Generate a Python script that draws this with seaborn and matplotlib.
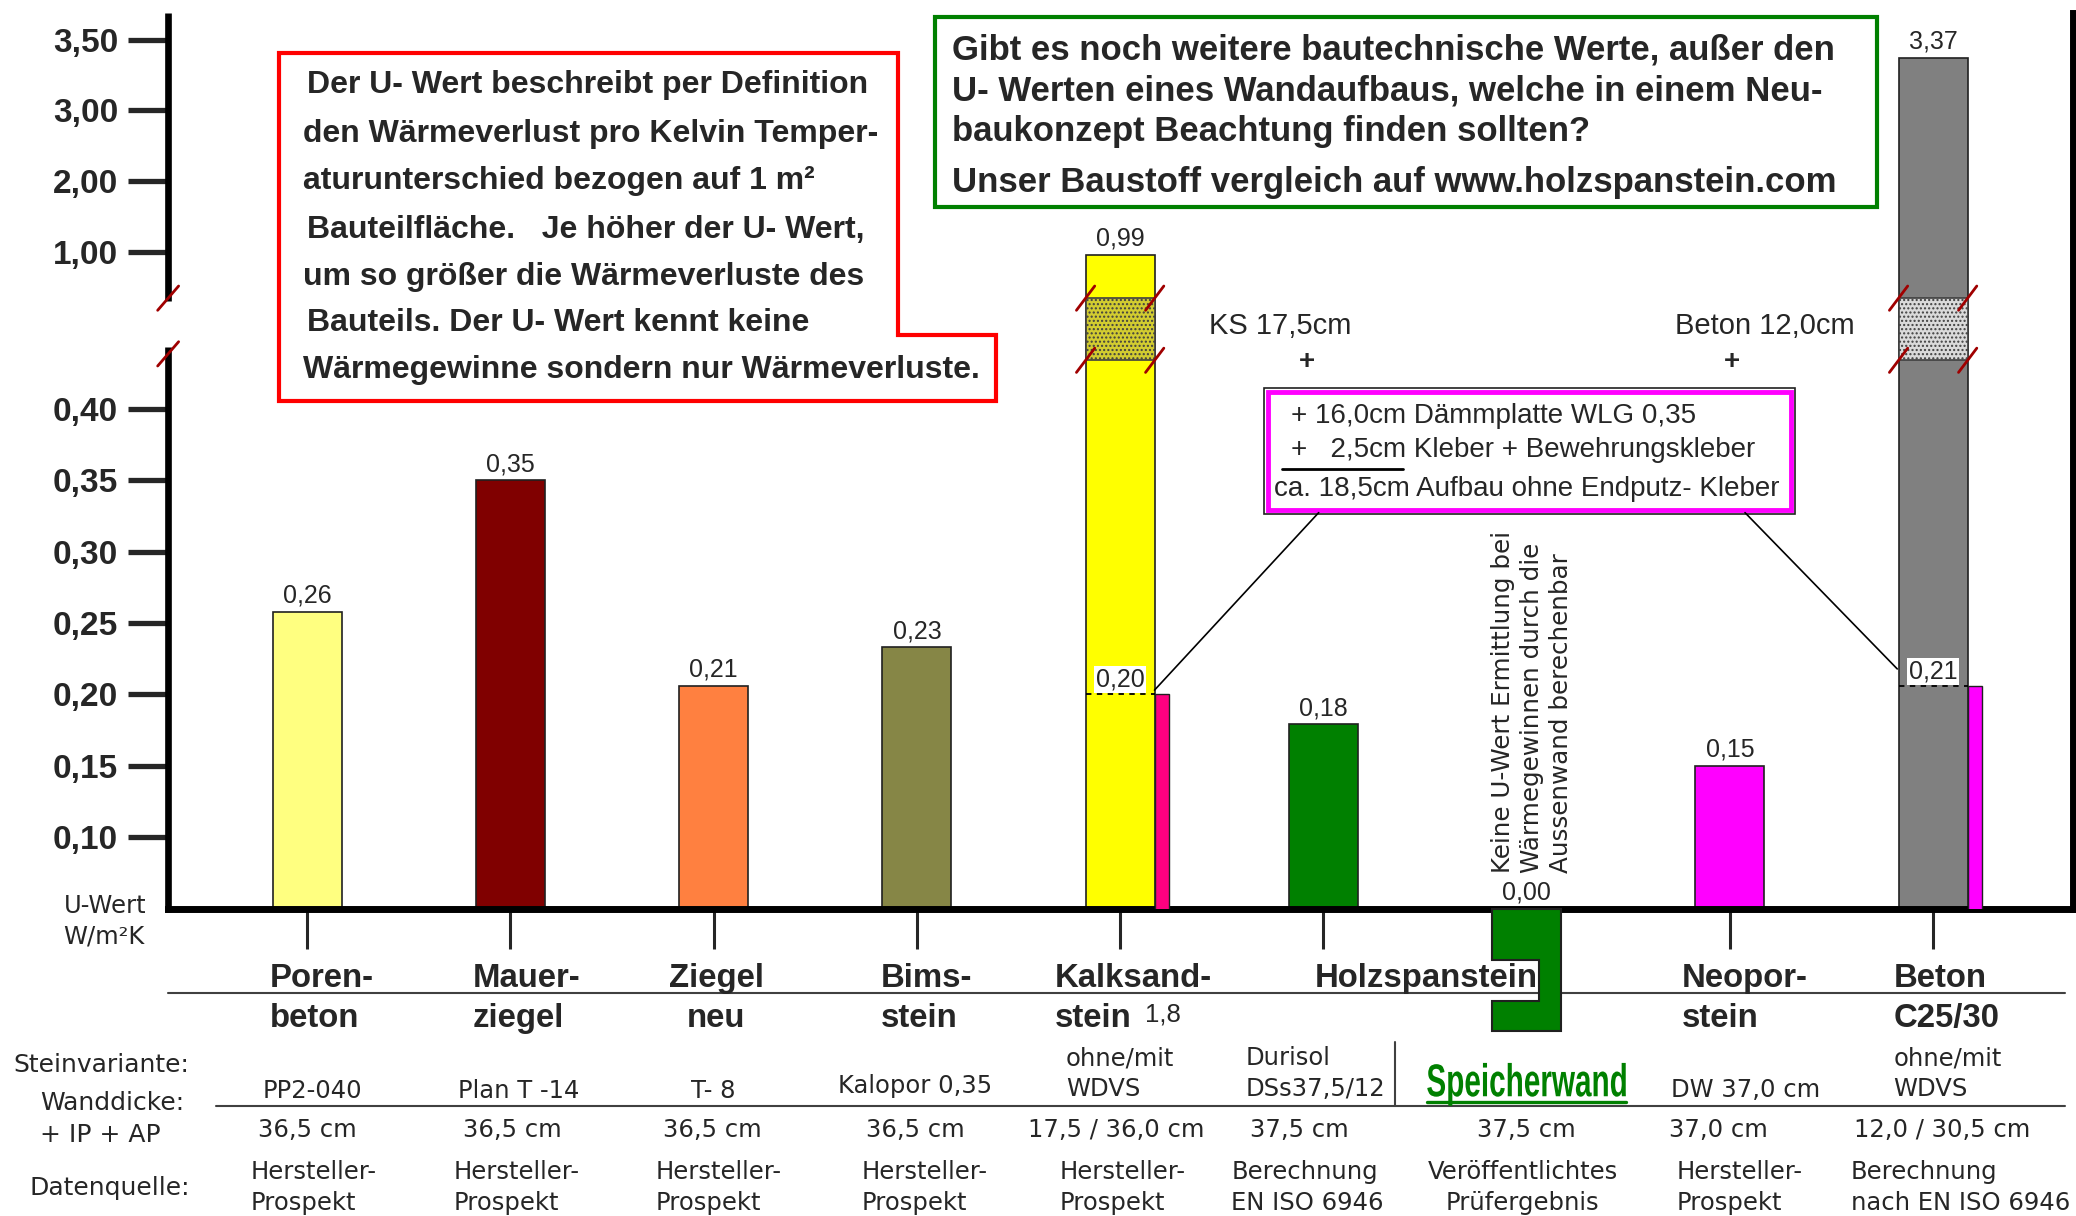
"""U-Werte verschiedener Wandbaustoffe mit gebrochener y-Achse."""
import numpy as np
import pandas as pd
import matplotlib
matplotlib.use("Agg")
import matplotlib.pyplot as plt
import matplotlib.patches as mpatches
import matplotlib.transforms as mtransforms
from matplotlib.lines import Line2D
from matplotlib.textpath import TextPath
from matplotlib.font_manager import FontProperties
import seaborn as sns

sns.set_style("white")
plt.rcParams["font.family"] = ["Liberation Sans", "DejaVu Sans"]
TAB = ["DejaVu Sans"]  # breitere Schrift fuer die Tabelle

"""Daten"""
baustoffe = ["Porenbeton", "Mauerziegel", "Ziegel neu", "Bimsstein", "Kalksandstein",
             "Holzspanstein", "Speicherwand", "Neoporstein", "Beton"]
u_werte = [0.258, 0.35, 0.206, 0.233, 0.99, 0.179, 0.0, 0.15, 3.37]
u_labels = ["0,26", "0,35", "0,21", "0,23", "0,99", "0,18", "0,00", "0,15", "3,37"]
farben = ["#ffff80", "#800000", "#ff8040", "#868646", "#ffff00",
          "#008000", "#008000", "#ff00ff", "#808080"]

wdvs_index = [4, 8]
wdvs_werte = [0.20, 0.206]
wdvs_labels = ["0,20", "0,21"]
wdvs_farben = ["#ff0080", "#ff00ff"]
bruch_farben = ["#d2cc30", "#dadada"]

y_ticks = [0.10, 0.15, 0.20, 0.25, 0.30, 0.35, 0.40, 1.00, 2.00, 3.00, 3.50]
y_tick_labels = ["0,10", "0,15", "0,20", "0,25", "0,30", "0,35", "0,40",
                 "1,00", "2,00", "3,00", "3,50"]

name_1 = ["Poren-", "Mauer-", "Ziegel", "Bims-", "Kalksand-", "Holzspanstein", "", "Neopor-", "Beton"]
name_2 = ["beton", "ziegel", "neu", "stein", "stein", "", "", "stein", "C25/30"]
variante = ["PP2-040", "Plan T -14", "T- 8", "Kalopor 0,35", "ohne/mit\nWDVS",
            "Durisol\nDSs37,5/12", "Speicherwand", "DW 37,0 cm", "ohne/mit\nWDVS"]
wanddicke = ["36,5 cm", "36,5 cm", "36,5 cm", "36,5 cm", "17,5 / 36,0 cm",
             "37,5 cm", "37,5 cm", "37,0 cm", "12,0 / 30,5 cm"]
quelle_1 = ["Hersteller-", "Hersteller-", "Hersteller-", "Hersteller-", "Hersteller-",
            "Berechnung", "Veröffentlichtes", "Hersteller-", "Berechnung"]
quelle_2 = ["Prospekt", "Prospekt", "Prospekt", "Prospekt", "Prospekt",
            "EN ISO 6946", "Prüfergebnis", "Prospekt", "nach EN ISO 6946"]

"""Gebrochene Skala: Stützstellen Wert -> Position"""
KNOT_V = np.array([0.05, 0.40, 1.00, 2.00, 3.00, 3.50])
KNOT_P = np.array([0.0, 7.0, 9.19, 10.19, 11.19, 12.17])


def fwd(v):
    v = np.asarray(v, dtype=float)
    p = np.interp(v, KNOT_V, KNOT_P)
    p = np.where(v < KNOT_V[0], (v - KNOT_V[0]) / 0.05, p)
    p = np.where(v > KNOT_V[-1], KNOT_P[-1] + (v - KNOT_V[-1]) * 1.96, p)
    return p


def inv(p):
    p = np.asarray(p, dtype=float)
    v = np.interp(p, KNOT_P, KNOT_V)
    v = np.where(p < KNOT_P[0], KNOT_V[0] + p * 0.05, v)
    v = np.where(p > KNOT_P[-1], KNOT_V[-1] + (p - KNOT_P[-1]) / 1.96, v)
    return v


"""Platzierung im Raster des Originals (1568 x 918)"""
W, H = 1568, 918


def fx(x):
    return x / W


def fy(y):
    return 1 - y / H


fig = plt.figure(figsize=(20.76, 12.16), dpi=100)
ax = fig.add_axes([fx(127), fy(686), fx(1566) - fx(127), fy(10) - fy(686)])

df = pd.DataFrame({"Baustoff": baustoffe, "U": u_werte})
sns.barplot(data=df, x="Baustoff", y="U", hue="Baustoff", palette=farben, saturation=1,
            width=0.34, edgecolor="#202020", linewidth=1.2, legend=False, ax=ax)

ax.set_yscale("function", functions=(fwd, inv))
ax.set_ylim(0.05, float(inv(12.54)))
ax.set_xlim(-0.684, 8.69)
ax.set_xlabel("")
ax.set_ylabel("")

ax.set_yticks(y_ticks)
ax.set_yticklabels(y_tick_labels, fontsize=24, fontweight="bold")
ax.tick_params(axis="y", left=True, direction="out", length=29, width=3.8, pad=7)
ax.set_xticks([0, 1, 2, 3, 4, 5, 7, 8])
ax.set_xticklabels([])
ax.tick_params(axis="x", bottom=True, direction="out", length=29, width=2.2)
ax.minorticks_off()

ax.spines["top"].set_visible(False)
ax.spines["left"].set_visible(False)
for s in ["bottom", "right"]:
    ax.spines[s].set_linewidth(5)
    ax.spines[s].set_color("black")

"""Linke Achse mit Unterbrechung"""
yt = ax.get_yaxis_transform()
ax.plot([0, 0], [float(inv(-0.05)), float(inv(7.87))], color="black", lw=4.8,
        transform=yt, clip_on=False, solid_capstyle="butt")
ax.plot([0, 0], [float(inv(8.51)), float(inv(12.54))], color="black", lw=4.8,
        transform=yt, clip_on=False, solid_capstyle="butt")
for p in [7.77, 8.55]:
    ax.plot([-0.0055, 0.0055], [float(inv(p - 0.17)), float(inv(p + 0.17))],
            color="#a00000", lw=2, transform=yt, clip_on=False)

"""Bruchzone in den hohen Balken"""
for idx, fc in zip(wdvs_index, bruch_farben):
    lo, hi = float(inv(7.68)), float(inv(8.55))
    ax.bar(idx, hi - lo, bottom=lo, width=0.34, facecolor=fc, edgecolor="#404040",
           hatch="....", linewidth=1.2, zorder=3)
    for xe in [idx - 0.17, idx + 0.17]:
        for p in [7.68, 8.55]:
            ax.plot([xe - 0.045, xe + 0.045], [float(inv(p - 0.17)), float(inv(p + 0.17))],
                    color="#a00000", lw=2, zorder=4, clip_on=False)

"""WDVS-Balken und gestrichelte Linien"""
for idx, v, lab, c in zip(wdvs_index, wdvs_werte, wdvs_labels, wdvs_farben):
    ax.bar(idx + 0.17 + 0.036, v, width=0.072, color=c, edgecolor="#202020",
           linewidth=1, zorder=3)
    ax.plot([idx - 0.17, idx + 0.17], [v, v], color="black", lw=1.3,
            ls=(0, (3, 3)), zorder=4)
    ax.annotate(lab, (idx, v), xytext=(0, 2), textcoords="offset points",
                ha="center", va="bottom", fontsize=18, zorder=5,
                bbox=dict(facecolor="white", edgecolor="none", pad=1))

"""Wertebeschriftung"""
for i, (v, lab) in enumerate(zip(u_werte, u_labels)):
    ax.annotate(lab, (i, max(v, 0.05)), xytext=(0, 3), textcoords="offset points",
                ha="center", va="bottom", fontsize=18)

"""Speicherwand: Block unterhalb der Achse"""
bt = mtransforms.blended_transform_factory(ax.transData, fig.transFigure)
x0, x1, xn = 6 - 0.17, 6 + 0.17, 6.06
pts = [(x0, fy(686)), (x1, fy(686)), (x1, fy(778)), (x0, fy(778)), (x0, fy(756)),
       (xn, fy(756)), (xn, fy(725)), (x0, fy(725))]
fig.add_artist(mpatches.Polygon(pts, closed=True, facecolor="#008000",
                                edgecolor="#202020", lw=1.5, transform=bt, zorder=6))

"""Textkasten rot"""
red_box = [(211, 40), (678, 40), (678, 253), (752, 253), (752, 303), (211, 303)]
fig.add_artist(mpatches.Polygon([(fx(a), fy(b)) for a, b in red_box], closed=True,
                                facecolor="white", edgecolor="#ff0000", lw=3,
                                transform=fig.transFigure))
red_lines = ["Der U- Wert beschreibt per Definition",
             "den Wärmeverlust pro Kelvin Temper-",
             "aturunterschied bezogen auf 1 m²",
             "Bauteilfläche.   Je höher der U- Wert,",
             "um so größer die Wärmeverluste des",
             "Bauteils. Der U- Wert kennt keine",
             "Wärmegewinne sondern nur Wärmeverluste."]
for txt, yy, xx in zip(red_lines, [64, 101, 137, 174, 209, 244, 279],
                       [232, 229, 229, 232, 229, 232, 229]):
    fig.text(fx(xx), fy(yy), txt, fontsize=23, fontweight="bold", va="center")

"""Textkasten gruen"""
fig.add_artist(mpatches.Rectangle((fx(706), fy(156)), fx(1418) - fx(706), fy(13) - fy(156),
                                  facecolor="white", edgecolor="#008000", lw=3,
                                  transform=fig.transFigure))
green_lines = ["Gibt es noch weitere bautechnische Werte, außer den",
               "U- Werten eines Wandaufbaus, welche in einem Neu-",
               "baukonzept Beachtung finden sollten?",
               "Unser Baustoff vergleich auf www.holzspanstein.com"]
for txt, yy in zip(green_lines, [38, 69, 99, 138]):
    fig.text(fx(719), fy(yy), txt, fontsize=25, fontweight="bold", va="center")

"""Textkasten magenta mit Verbindungslinien"""
fig.add_artist(Line2D([fx(996), fx(872)], [fy(387), fy(521)], color="black", lw=1.2,
                      transform=fig.transFigure))
fig.add_artist(Line2D([fx(1318), fx(1433)], [fy(387), fy(505)], color="black", lw=1.2,
                      transform=fig.transFigure))
fig.add_artist(mpatches.Rectangle((fx(955), fy(388)), fx(1356) - fx(955), fy(293) - fy(388),
                                  facecolor="none", edgecolor="#202020", lw=1.2,
                                  transform=fig.transFigure))
fig.add_artist(mpatches.Rectangle((fx(958), fy(385)), fx(1353) - fx(958), fy(296) - fy(385),
                                  facecolor="white", edgecolor="#ff00ff", lw=3.5,
                                  transform=fig.transFigure))
fig.text(fx(975), fy(314), "+ 16,0cm Dämmplatte WLG 0,35", fontsize=20, va="center")
fig.text(fx(975), fy(340), "+   2,5cm Kleber + Bewehrungskleber", fontsize=20, va="center")
fig.text(fx(962), fy(369), "ca. 18,5cm Aufbau ohne Endputz- Kleber", fontsize=20, va="center")
fig.add_artist(Line2D([fx(968), fx(1060)], [fy(354), fy(354)], color="black", lw=2,
                      transform=fig.transFigure))

fig.text(fx(967), fy(246), "KS 17,5cm", fontsize=21, ha="center", va="center")
fig.text(fx(987), fy(273), "+", fontsize=20, fontweight="bold", ha="center", va="center")
fig.text(fx(1333), fy(246), "Beton 12,0cm", fontsize=21, ha="center", va="center")
fig.text(fx(1308), fy(273), "+", fontsize=20, fontweight="bold", ha="center", va="center")

fig.text(fx(1157), fy(659), "Keine U-Wert Ermittlung bei\nWärmegewinnen durch die\nAussenwand berechenbar",
         rotation=90, fontsize=17.7, family=TAB, ha="center", va="bottom",
         multialignment="left", linespacing=1.25)

fig.text(fx(48), fy(684), "U-Wert", fontsize=17.5, family=TAB, va="center")
fig.text(fx(48), fy(707), "W/m²K", fontsize=17.5, family=TAB, va="center")

"""Tabelle unter dem Diagramm"""
for line in [((127, 1560), (750, 750)), ((163, 1560), (835, 835)), ((1054, 1054), (787, 835))]:
    fig.add_artist(Line2D([fx(line[0][0]), fx(line[0][1])], [fy(line[1][0]), fy(line[1][1])],
                          color="#404040", lw=1.5, transform=fig.transFigure, zorder=1))

name_1_x = [204, 357, 541, 665, 797, 993, 0, 1270, 1430]
name_2_x = [204, 357, 541, 665, 797, 0, 0, 1270, 1430]
for i in range(len(baustoffe)):
    ha = "center" if i == 2 else "left"
    if name_1[i]:
        fig.text(fx(name_1_x[i]), fy(739), name_1[i], fontsize=23.7, fontweight="bold",
                 ha=ha, va="center", zorder=7)
    if name_2[i]:
        fig.text(fx(name_2_x[i]), fy(769), name_2[i], fontsize=23.7, fontweight="bold",
                 ha=ha, va="center")
fig.text(fx(865), fy(766), "1,8", fontsize=18.5, va="center")

fig.text(fx(10), fy(804), "Steinvariante:", fontsize=18, family=TAB, va="center")
fig.text(fx(30), fy(833), "Wanddicke:", fontsize=18, family=TAB, va="center")
fig.text(fx(30), fy(857), "+ IP + AP", fontsize=18, family=TAB, va="center")
fig.text(fx(22), fy(897), "Datenquelle:", fontsize=18, family=TAB, va="center")

"""Speicherwand als schmale Schrift (Textpfad horizontal gestaucht)"""
px_w, px_h = fig.get_size_inches() * fig.dpi
tp = TextPath((0, 0), variante[6], size=46,
              prop=FontProperties(family="Liberation Sans", weight="bold"))
ext = tp.get_extents()
tr = (mtransforms.Affine2D().translate(-ext.x0, 0)
      .scale((fx(1228) - fx(1078)) * px_w / ext.width, 1)
      .translate(fx(1078) * px_w, fy(827.6) * px_h))
fig.add_artist(mpatches.PathPatch(tp, facecolor="#008000", edgecolor="none", transform=tr))
fig.add_artist(Line2D([fx(1078), fx(1228)], [fy(832), fy(832)], color="#008000", lw=2.4,
                      transform=fig.transFigure))

var_x = [236, 392, 539, 691, 805, 941, 1153, 1262, 1430]
for i, txt in enumerate(variante):
    if i == 6:
        continue
    if "\n" in txt:
        a, b = txt.split("\n")
        fig.text(fx(var_x[i]), fy(799), a, fontsize=17.5, family=TAB, va="center")
        fig.text(fx(var_x[i]), fy(822), b, fontsize=17.5, family=TAB, va="center")
    elif i == 7:
        fig.text(fx(var_x[i]), fy(823), txt, fontsize=17.5, family=TAB, va="center")
    else:
        fig.text(fx(var_x[i]), fy(824 if i != 3 else 820), txt, fontsize=17.5,
                 family=TAB, ha="center", va="center")

dicke_x = [232, 387, 538, 691, 843, 981, 1153, 1298, 1467]
for i, txt in enumerate(wanddicke):
    fig.text(fx(dicke_x[i]), fy(853), txt, fontsize=17.5, family=TAB, ha="center", va="center")

quelle_x = [189, 343, 495, 651, 800, 930, 1150, 1266, 1398]
for i in range(len(baustoffe)):
    ha = "center" if i == 6 else "left"
    fig.text(fx(quelle_x[i]), fy(885), quelle_1[i], fontsize=17.5, family=TAB, ha=ha, va="center")
    fig.text(fx(quelle_x[i]), fy(908), quelle_2[i], fontsize=17.5, family=TAB, ha=ha, va="center")

fig.savefig("out.png", dpi=100)
